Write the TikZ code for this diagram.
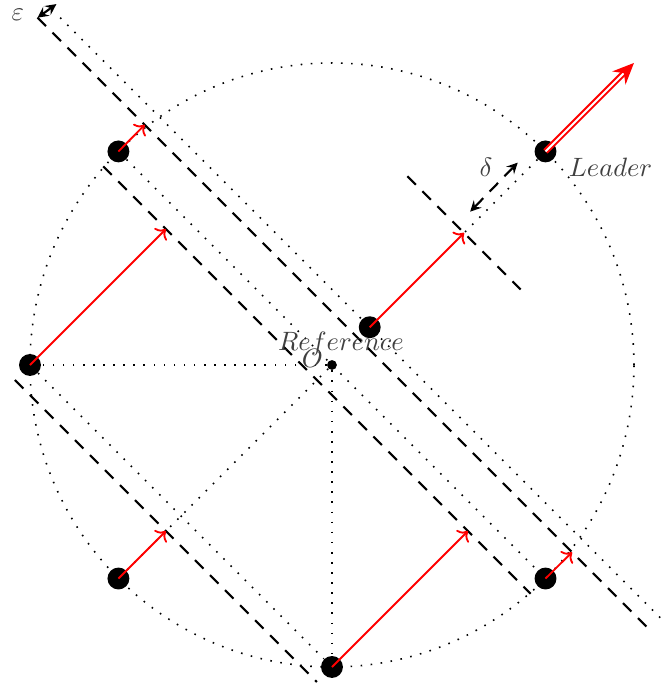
\documentclass[tikz,border=0pt]{standalone}
\usepackage{amsmath,amssymb}
\usetikzlibrary{arrows.meta}

\begin{document}
\begin{tikzpicture}[
  dots/.style={line width=0.6pt, dash pattern=on 0.6pt off 3.2pt},
  front/.style={thick, dash pattern=on 4.5pt off 3.5pt},
  agent/.style={circle, fill, inner sep=0pt, minimum size=0.29cm},
  move/.style={->, red, line width=0.7pt},
  gap/.style={<->, >=stealth, thick},
  lbl/.style={text=black!75}
]
  \useasboundingbox (-4.397,-4.252) rectangle (4.450,4.834);

  %origin, reference and agents on the circle
  \node[circle, fill, inner sep=0pt, minimum size=0.13cm] (O) at (0,0) {};
  \node[agent] (lead) at (45:4) {};
  \node[agent] (p135) at (135:4) {};
  \node[agent] (p180) at (180:4) {};
  \node[agent] (p225) at (225:4) {};
  \node[agent] (p270) at (270:4) {};
  \node[agent] (p315) at (315:4) {};
  \node[agent] (ref) at (0.5,0.5) {};

  %ends of the lines
  \coordinate (a1) at (-3.6,4.6);
  \coordinate (a2) at (4.4,-3.4);
  \coordinate (A1) at (-3.9,4.6);
  \coordinate (A2) at (4.2,-3.5);
  \coordinate (B1) at (-3.03,2.63);
  \coordinate (B2) at (2.63,-3.03);
  \coordinate (C1) at (-4.2,-0.2);
  \coordinate (C2) at (-0.2,-4.2);
  \coordinate (D1) at (1.0,2.5);
  \coordinate (D2) at (2.5,1.0);
  \coordinate (dmid) at (1.75,1.75);

  %dotted circle and chords
  \draw[dots] (O.center) circle (4);
  \draw[dots] (O) -- (p180);
  \draw[dots] (O) -- (p270);
  \draw[dots] (O) -- (p225);
  \draw[dots] (p135) -- (p315);
  \draw[dots] (p180) -- (p270);
  \draw[dots] (a1) -- (a2);
  \draw[dots] (lead) -- (dmid);

  %dashed fronts
  \draw[front] (A1) -- (A2);
  \draw[front] (B1) -- (B2);
  \draw[front] (C1) -- (C2);
  \draw[front] (D1) -- (D2);

  %epsilon and delta gaps
  \coordinate (e1) at (-3.65,4.78);
  \draw[gap] (A1) -- (e1);
  \coordinate (d1) at (1.83,2.03);
  \coordinate (d2) at (2.46,2.68);
  \draw[gap, dash pattern=on 4.5pt off 3.5pt] (d1) -- (d2);

  %motion of each agent
  \coordinate (t135) at (-2.48,3.18);
  \coordinate (t315) at (3.18,-2.48);
  \coordinate (t180) at (-2.2,1.8);
  \coordinate (t270) at (1.8,-2.2);
  \coordinate (t225) at (-2.2,-2.2);
  \coordinate (tref) at (1.75,1.75);
  \coordinate (tlead) at (4,4);
  \draw[move] (p135.center) -- (t135);
  \draw[move] (p315.center) -- (t315);
  \draw[move] (p180.center) -- (t180);
  \draw[move] (p270.center) -- (t270);
  \draw[move] (p225.center) -- (t225);
  \draw[move] (ref.center) -- (tref);
  \draw[red, double, line width=0.75pt, double distance=0.75pt,
        -{Stealth[length=8pt, width=7pt]}] (lead.center) -- (tlead);

  %labels
  \node[lbl] (epslbl) at (-4.16,4.64) {$\varepsilon$};
  \node[lbl] (dlbl) at (2.04,2.62) {$\delta$};
  \node[lbl] (leadlbl) at (3.69,2.62) {$Leader$};
  \node[lbl] (reflbl) at (0.12,0.285) {$Reference$};
  \node[lbl] (Olbl) at (-0.26,0.09) {$O$};
\end{tikzpicture}
\end{document}
